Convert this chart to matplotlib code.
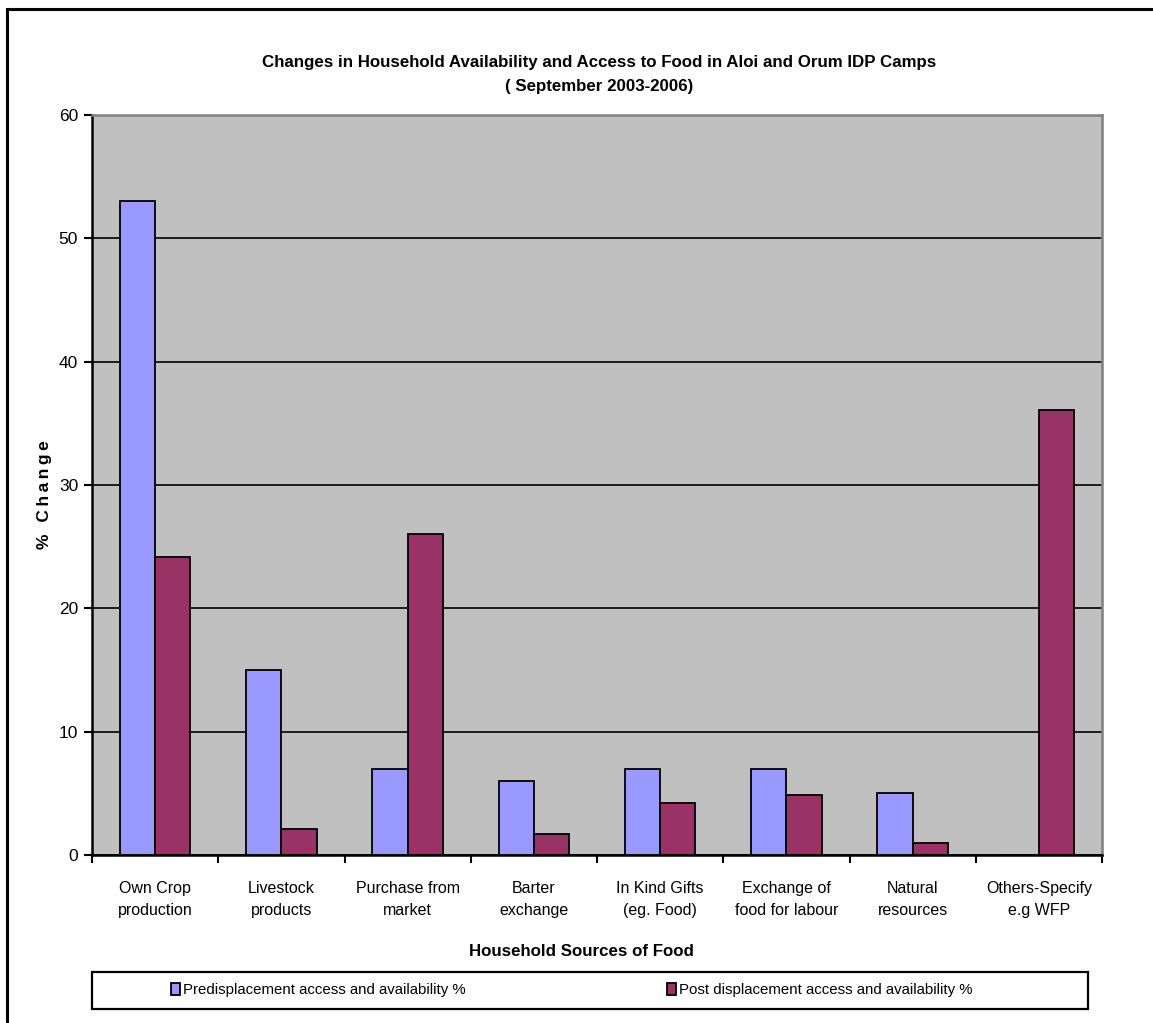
import matplotlib
matplotlib.use("Agg")
import matplotlib.pyplot as plt
from matplotlib import font_manager
from matplotlib.patches import Rectangle
import numpy as np

categories = ["Own Crop\nproduction", "Livestock\nproducts", "Purchase from\nmarket",
              "Barter\nexchange", "In Kind Gifts\n(eg. Food)", "Exchange of\nfood for labour",
              "Natural\nresources", "Others-Specify\ne.g WFP"]
pre_values = [53, 15, 7, 6, 7, 7, 5, 0]
post_values = [24.2, 2.1, 26, 1.7, 4.2, 4.9, 1.0, 36.1]
series_names = ["Predisplacement access and availability %",
                "Post displacement access and availability %"]
y_ticks = [0, 10, 20, 30, 40, 50, 60]

# prefer a narrow sans face when one is installed
installed = {f.name for f in font_manager.fontManager.ttflist}
if 'Liberation Sans Narrow' in installed:
    text_family = ['Liberation Sans Narrow', 'DejaVu Sans']
    k = 1.0 / 0.82
else:
    text_family = ['Liberation Sans', 'DejaVu Sans']
    k = 1.0
plt.rcParams['font.family'] = ['Liberation Sans', 'DejaVu Sans']

W, H = 1153, 1023
fig = plt.figure(figsize=(W / 100, H / 100), dpi=100)

def fx(px):
    return px / W

def fy(py):
    return 1 - py / H

# outer chart frame (open to the right and bottom)
fig.patches.append(Rectangle((fx(7), fy(1100)), fx(1200), fy(9) - fy(1100),
                             transform=fig.transFigure, fill=False,
                             edgecolor='black', linewidth=2.2))

ax = fig.add_axes([fx(92), fy(855), fx(1102) - fx(92), fy(115) - fy(855)])
ax.set_facecolor('#C0C0C0')

x = np.arange(len(categories))
w = 0.28
b1 = ax.bar(x - w / 2, pre_values, w, color='#9999FF', edgecolor='black', linewidth=1.3,
            label=series_names[0], zorder=3)
b2 = ax.bar(x + w / 2, post_values, w, color='#993366', edgecolor='black', linewidth=1.3,
            label=series_names[1], zorder=3)

ax.set_xlim(-0.5, len(categories) - 0.5)
ax.set_ylim(0, 60)
ax.set_yticks(y_ticks)
ax.yaxis.grid(True, color='black', linewidth=1.2, zorder=1)
ax.set_axisbelow(True)

ax.set_xticks(np.arange(len(categories) + 1) - 0.5)
ax.set_xticklabels([])
ax.set_xticks(x, minor=True)
ax.set_xticklabels(categories, minor=True, fontsize=11.5 * k, linespacing=1.55,
                   family=text_family)
ax.tick_params(axis='x', which='minor', length=0, pad=19)
ax.tick_params(axis='x', which='major', length=6, width=1.5, direction='out')
ax.tick_params(axis='y', length=6, width=1.5, direction='out', labelsize=12.5, pad=4)

for s in ('left', 'bottom'):
    ax.spines[s].set_color('black')
    ax.spines[s].set_linewidth(1.8)
for s in ('top', 'right'):
    ax.spines[s].set_color('#808080')
    ax.spines[s].set_linewidth(1.8)

fig.text(fx(599), fy(63), "Changes in Household Availability and Access to Food in Aloi and Orum IDP Camps",
         ha='center', va='center', fontsize=12.2 * k, fontweight='bold', family=text_family)
fig.text(fx(599), fy(87), "( September 2003-2006)",
         ha='center', va='center', fontsize=12.2 * k, fontweight='bold', family=text_family)

fig.text(fx(45), fy(495), "\u2009".join("% Change"), rotation=90, ha='center', va='center',
         fontsize=12.5, fontweight='bold')
fig.text(fx(581), fy(952), "Household Sources of Food", ha='center', va='center',
         fontsize=12.2 * k, fontweight='bold', family=text_family)

# legend box
fig.patches.append(Rectangle((fx(92), fy(1009)), fx(1088) - fx(92), fy(972) - fy(1009),
                             transform=fig.transFigure, fill=False,
                             edgecolor='black', linewidth=1.6))
leg = fig.legend(handles=[b1, b2], labels=series_names, ncol=2, frameon=False,
                 loc='center', bbox_to_anchor=(fx(572), fy(990)),
                 prop={'family': text_family, 'size': 10.8 * k},
                 handlelength=0.6, handleheight=0.9,
                 handletextpad=0.2, columnspacing=13.4)

fig.savefig("out.png", dpi=100)
